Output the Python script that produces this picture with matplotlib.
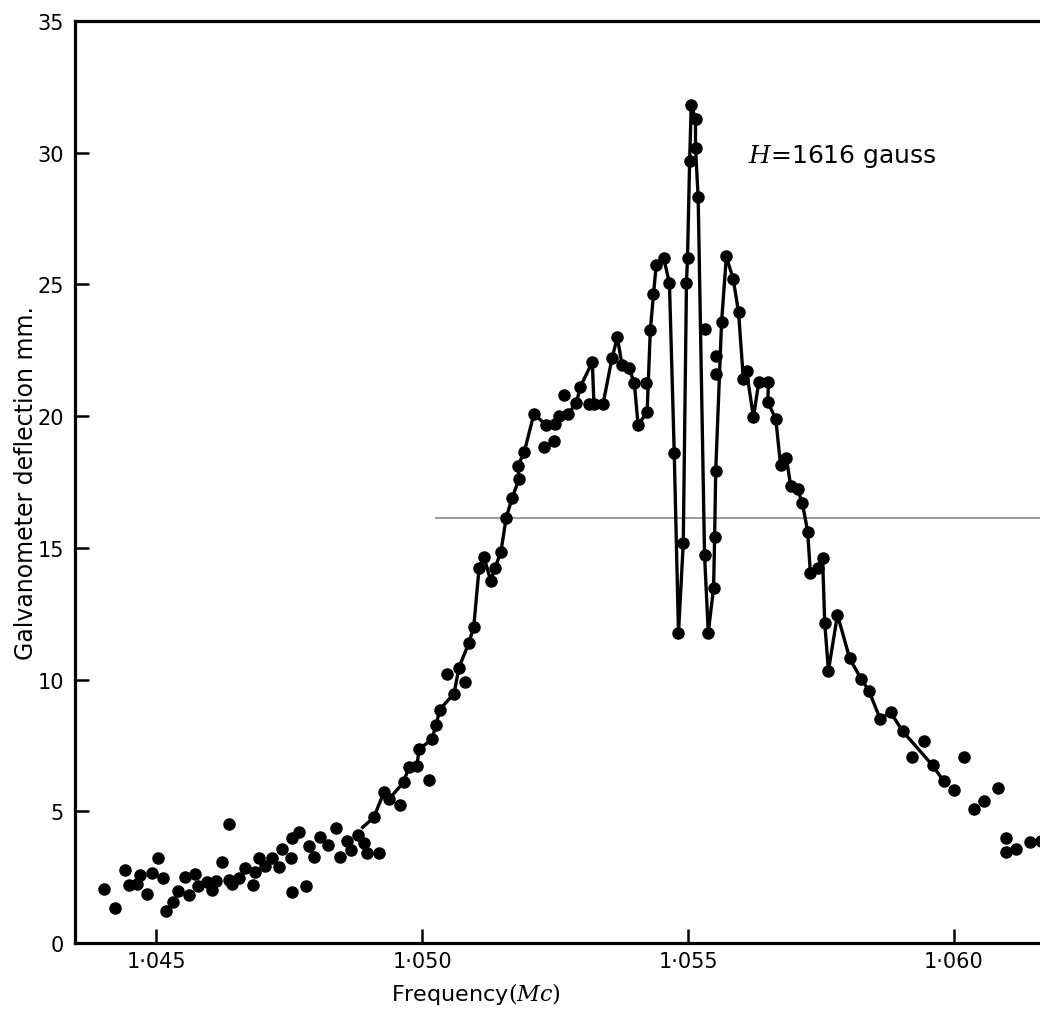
import matplotlib
matplotlib.use("Agg")
import matplotlib.pyplot as plt

plt.rcParams['font.family'] = ['DejaVu Sans']
plt.rcParams['mathtext.fontset'] = 'dejavuserif'

# points joined by the curve (first one is where the drawn line starts, no dot)
line_freq = [1.04888, 1.04909, 1.04928, 1.04937, 1.04965, 1.04975, 1.04990, 1.04994,
             1.05018, 1.05026, 1.05033, 1.05060, 1.05069, 1.05088, 1.05097, 1.05107,
             1.05116, 1.05129, 1.05137, 1.05148, 1.05158, 1.05169, 1.05182, 1.05180,
             1.05192, 1.05210, 1.05233, 1.05250, 1.05258, 1.05274, 1.05290, 1.05297,
             1.05320, 1.05323, 1.05340, 1.05357, 1.05367, 1.05376, 1.05389, 1.05399,
             1.05406, 1.05423, 1.05429, 1.05435, 1.05440, 1.05454, 1.05465, 1.05474,
             1.05482, 1.05491, 1.05497, 1.05499, 1.05503, 1.05506, 1.05514, 1.05514,
             1.05519, 1.05531, 1.05538, 1.05548, 1.05550, 1.05552, 1.05563, 1.05572,
             1.05585, 1.05595, 1.05604, 1.05610, 1.05623, 1.05633, 1.05651, 1.05650,
             1.05665, 1.05674, 1.05685, 1.05693, 1.05706, 1.05715, 1.05725, 1.05730,
             1.05745, 1.05753, 1.05757, 1.05764, 1.05781, 1.05804, 1.05825, 1.05840,
             1.05861, 1.05881, 1.05904, 1.05960, 1.05981]
line_defl = [4.39, 4.77, 5.72, 5.45, 6.10, 6.67, 6.70, 7.35,
             7.73, 8.26, 8.86, 9.47, 10.45, 11.40, 12.01, 14.24,
             14.66, 13.75, 14.24, 14.85, 16.14, 16.89, 17.61, 18.11,
             18.64, 20.08, 19.66, 19.70, 20.00, 20.08, 20.49, 21.10,
             22.05, 20.45, 20.45, 22.20, 22.99, 21.93, 21.82, 21.25,
             19.66, 20.15, 23.26, 24.62, 25.72, 26.02, 25.04, 18.60,
             11.78, 15.19, 25.04, 26.02, 29.70, 31.82, 31.29, 30.19,
             28.30, 14.73, 11.78, 13.48, 15.42, 17.92, 23.56, 26.06,
             25.19, 23.94, 21.40, 21.70, 19.96, 21.29, 21.29, 20.53,
             19.89, 18.14, 18.41, 17.35, 17.23, 16.70, 15.61, 14.05,
             14.24, 14.62, 12.16, 10.34, 12.46, 10.80, 10.04, 9.58,
             8.52, 8.75, 8.03, 6.74, 6.14]

# readings not on the curve
off_freq = [1.04402, 1.04423, 1.04442, 1.04449, 1.04464, 1.04470, 1.04483, 1.04492,
            1.04504, 1.04513, 1.04519, 1.04532, 1.04541, 1.04553, 1.04562, 1.04573,
            1.04579, 1.04596, 1.04604, 1.04613, 1.04624, 1.04636, 1.04636, 1.04643,
            1.04656, 1.04666, 1.04681, 1.04685, 1.04694, 1.04705, 1.04717, 1.04730,
            1.04737, 1.04753, 1.04756, 1.04756, 1.04769, 1.04781, 1.04788, 1.04796,
            1.04807, 1.04822, 1.04837, 1.04845, 1.04858, 1.04867, 1.04879, 1.04890,
            1.04896, 1.04918, 1.04958, 1.05013, 1.05046, 1.05080, 1.05229, 1.05248,
            1.05267, 1.05313, 1.05420, 1.05531, 1.05553, 1.05553, 1.05921, 1.05943,
            1.06000, 1.06019, 1.06038, 1.06057, 1.06083, 1.06098, 1.06098, 1.06117,
            1.06143, 1.06164]
off_defl = [2.05, 1.33, 2.77, 2.20, 2.23, 2.60, 1.86, 2.65,
            3.22, 2.46, 1.21, 1.55, 1.97, 2.50, 1.82, 2.61,
            2.16, 2.31, 2.00, 2.35, 3.07, 4.51, 2.39, 2.23,
            2.46, 2.84, 2.20, 2.69, 3.22, 2.92, 3.22, 2.88,
            3.56, 3.22, 1.93, 3.98, 4.20, 2.16, 3.67, 3.26,
            4.02, 3.71, 4.36, 3.26, 3.86, 3.52, 4.09, 3.79,
            3.41, 3.41, 5.23, 6.17, 10.20, 9.89, 18.83, 19.05,
            20.80, 20.45, 21.25, 23.30, 22.30, 21.60, 7.05, 7.65,
            5.80, 7.05, 5.08, 5.38, 5.87, 3.98, 3.45, 3.56,
            3.83, 3.86]

x_ticks = [1.045, 1.050, 1.055, 1.060]
x_tick_labels = ['1·045', '1·050', '1·055', '1·060']
y_ticks = [0, 5, 10, 15, 20, 25, 30, 35]

fig = plt.figure(figsize=(10.4, 10.2), dpi=100)
ax = fig.add_axes([0.0721, 0.0745, 0.93, 0.904])

ax.plot(line_freq, line_defl, color='black', lw=2.4, zorder=3)
ax.plot(line_freq[1:], line_defl[1:], 'o', color='black', ms=8, zorder=4)
ax.plot(off_freq, off_defl, 'o', color='black', ms=8, zorder=4)

# faint horizontal rule across the plot
ax.plot([1.05026, 1.0617], [16.12, 16.12], color='#8a8a8a', lw=1.2, zorder=1)

ax.text(1.05612, 29.9, r'$H$=1616 gauss', fontsize=18, va='center', ha='left')

ax.set_xlim(1.04347, 1.06166)
ax.set_ylim(0, 35)
ax.set_xticks(x_ticks)
ax.set_xticklabels(x_tick_labels)
ax.set_yticks(y_ticks)

for side in ['left', 'bottom', 'top']:
    ax.spines[side].set_linewidth(2.3)
ax.spines['right'].set_visible(False)
ax.tick_params(direction='in', length=10, width=1.8, labelsize=15)
ax.tick_params(axis='x', pad=6)
ax.tick_params(axis='y', pad=8)

ax.set_ylabel('Galvanometer deflection mm.', fontsize=17)
ax.yaxis.set_label_coords(-0.038, 0.50)
ax.set_xlabel(r'Frequency$\left(\mathit{Mc}\right)$', fontsize=16)
ax.xaxis.set_label_coords(0.415, -0.04)

fig.savefig('out.png', dpi=100, facecolor='white')
